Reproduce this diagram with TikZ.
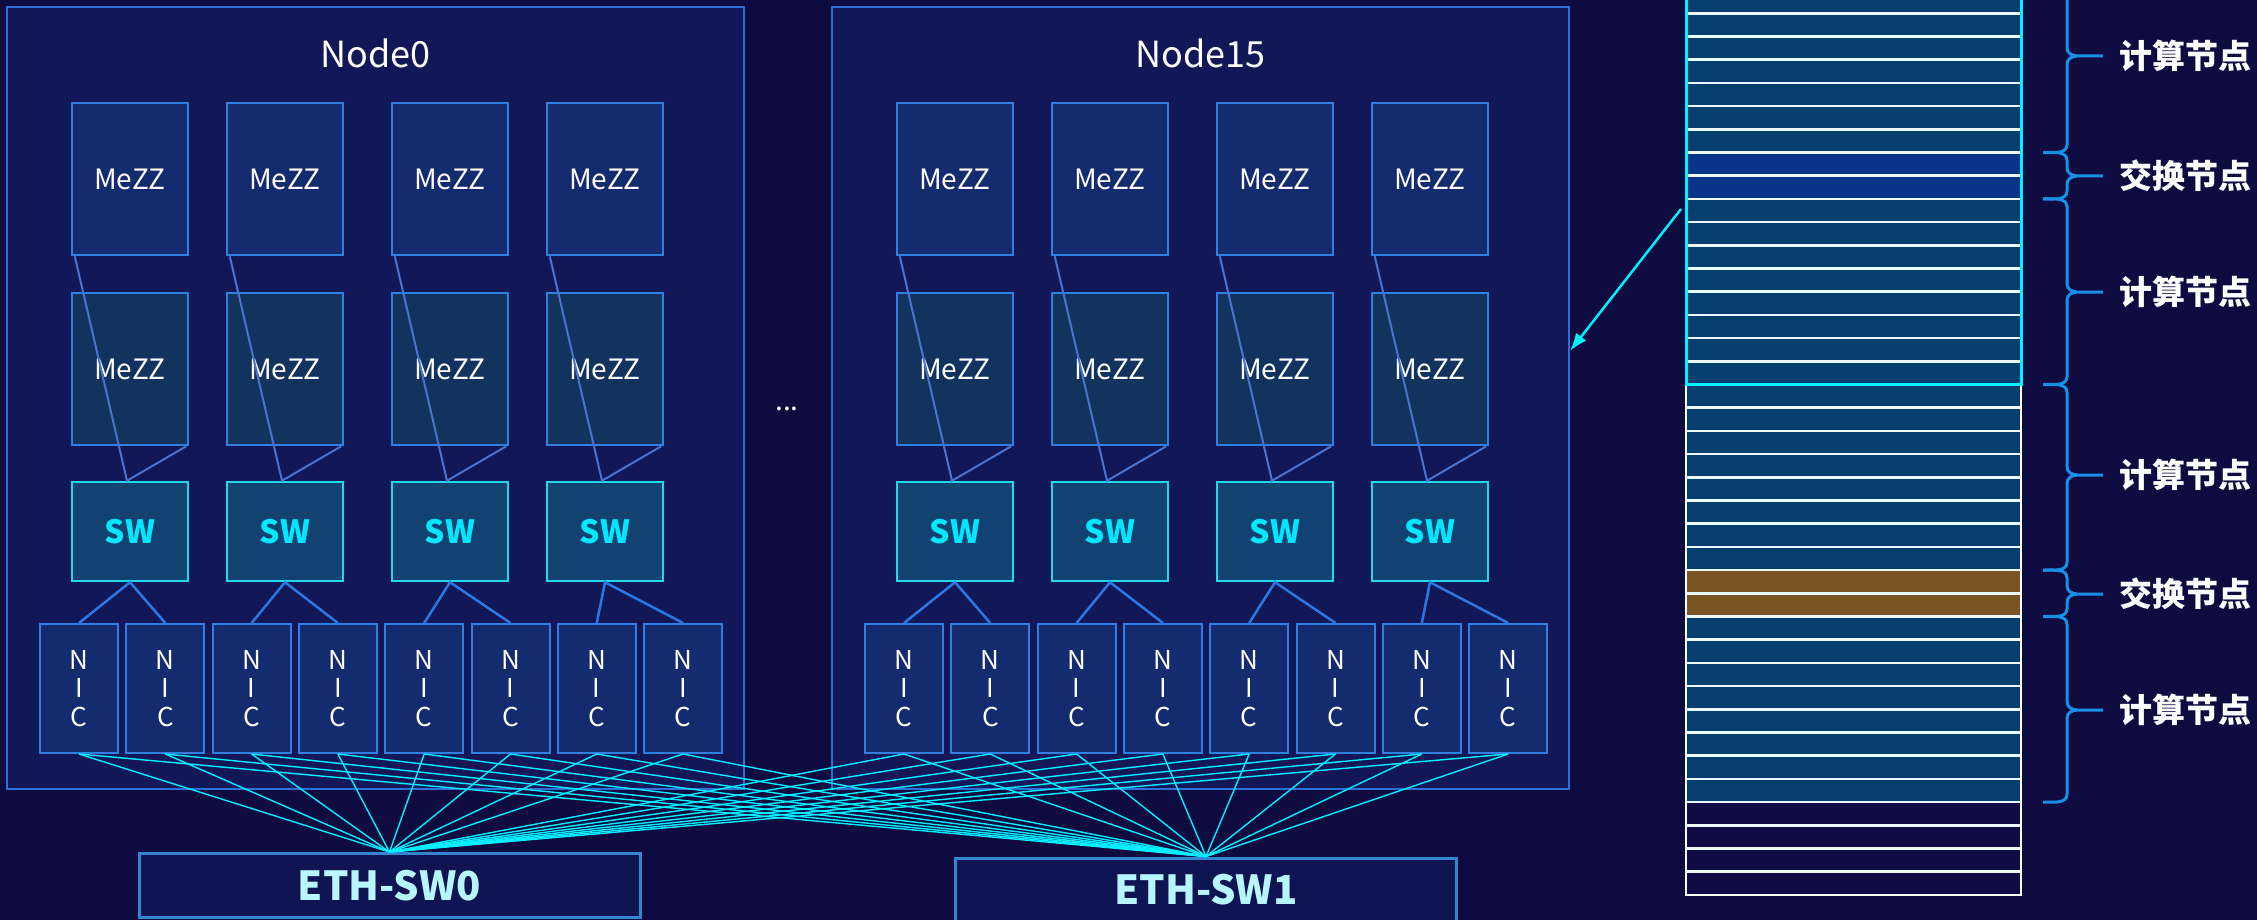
\documentclass[tikz,border=0pt]{standalone}
\usepackage{fontspec}
\setmainfont{Noto Sans CJK SC}
\usepackage{xcolor}
\usetikzlibrary{positioning,calc,arrows.meta}

\definecolor{bgnavy}{HTML}{0E0B40}
\definecolor{boxfill}{HTML}{111757}
\definecolor{boxline}{HTML}{2C6FD8}
\definecolor{mezzfill}{HTML}{152B70}
\definecolor{mezzlow}{HTML}{13335F}
\definecolor{mezzline}{HTML}{2F80E0}
\definecolor{swfill}{HTML}{114272}
\definecolor{swline}{HTML}{1FD8E8}
\definecolor{swtext}{HTML}{00E8FF}
\definecolor{linkblue}{HTML}{4A72D0}
\definecolor{nicblue}{HTML}{2B78E4}
\definecolor{fancyan}{HTML}{00F0FF}
\definecolor{ethfill}{HTML}{0F1452}
\definecolor{ethline}{HTML}{3584D0}
\definecolor{ethtext}{HTML}{B8F6FF}
\definecolor{rackteal}{HTML}{063E70}
\definecolor{rackblue}{HTML}{0A348A}
\definecolor{rackbrown}{HTML}{7A5523}
\definecolor{rackempty}{HTML}{100B45}
\definecolor{bracecol}{HTML}{1A8FE8}

\begin{document}
\begin{tikzpicture}[x=1pt, y=-1pt,
    nodebox/.style={draw=boxline, fill=boxfill, line width=2pt, minimum width=737pt, minimum height=782pt, inner sep=0pt},
    nodetitle/.style={text=white, font=\fontsize{36}{40}\selectfont},
    mezz/.style={draw=mezzline, fill=mezzfill, line width=2.5pt, minimum width=116pt, minimum height=152pt, inner sep=0pt, text=white, font=\fontsize{28}{30}\selectfont},
    mezzlo/.style={mezz, fill=mezzlow},
    swbox/.style={draw=swline, fill=swfill, line width=2.5pt, minimum width=116pt, minimum height=99pt, inner sep=0pt, text=swtext, font=\fontsize{32}{34}\selectfont\bfseries},
    nic/.style={draw=mezzline, fill=mezzfill, line width=2pt, minimum width=78pt, minimum height=129pt, inner sep=0pt, text=white, align=center, font=\fontsize{26}{28.5}\selectfont},
    ethsw/.style={draw=ethline, fill=ethfill, line width=3pt, minimum width=501pt, minimum height=64pt, inner sep=0pt, text=ethtext, font=\fontsize{40}{44}\selectfont\bfseries},
    uplink/.style={linkblue, line width=2pt},
    niclink/.style={nicblue, line width=2.5pt},
    fan/.style={fancyan, line width=1.4pt},
    rackline/.style={white!92!cyan, line width=2.5pt},
    bracepath/.style={bracecol, line width=3pt},
    bracelabel/.style={anchor=west, text=white, font=\fontsize{33}{34}\selectfont\bfseries},
    ptr/.style={-{Latex[length=18pt,width=13pt]}, fancyan, line width=2.5pt}
  ]
  \useasboundingbox (0,0) rectangle (2257,920);
  \fill[bgnavy] (0,0) rectangle (2257,920);

  % Compute nodes
  \foreach \n/\x in {0/7, 15/832} {
    \node[nodebox] (node\n) at ({\x+368.5},398) {};
    \node[nodetitle] (title\n) at ({\x+368.5},53) {Node\n};
    \foreach \i/\c in {1/123, 2/278, 3/443, 4/598} {
      \node[mezz] (mu\n-\i) at ({\x+\c},179) {MeZZ};
      \node[mezzlo, below=35.5pt of mu\n-\i] (ml\n-\i) {MeZZ};
      \node[swbox, below=34.5pt of ml\n-\i] (sw\n-\i) {SW};
      \draw[uplink] ($(mu\n-\i.south west)+(4,0)$) -- ($(sw\n-\i.north)+(-3,0)$) -- ($(ml\n-\i.south east)+(-3,0)$);
    }
    \foreach \j in {0,...,7}
      \node[nic] (nic\n-\j) at ({\x+72+86.3*\j},688.5) {N\\I\\C};
    \foreach \i/\a/\b in {1/0/1, 2/2/3, 3/4/5, 4/6/7}
      \draw[niclink] (nic\n-\a.north) -- (sw\n-\i.south) -- (nic\n-\b.north);
  }
  \node[text=white, font=\fontsize{28}{30}\selectfont] (gap) at (787,409) {...};

  % Ethernet switches
  \node[ethsw] (eth0) at (389.5,885.5) {ETH-SW0};
  \node[ethsw] (eth1) at (1206,890) {ETH-SW1};
  \foreach \n in {0,15}
    \foreach \j in {0,...,7} {
      \draw[fan] (nic\n-\j.south) -- (eth0.north);
      \draw[fan] (nic\n-\j.south) -- (eth1.north);
    }

  % Rack
  \fill[rackteal] (1686,-20) rectangle (2021,894.9);
  \foreach \r/\col in {6/rackblue, 7/rackblue, 24/rackbrown, 25/rackbrown, 34/rackempty, 35/rackempty, 36/rackempty, 37/rackempty}
    \fill[\col] (1686,{13.3+23.2*\r}) rectangle (2021,{13.3+23.2*(\r+1)});
  \foreach \r in {0,...,37}
    \draw[rackline] (1686,{13.3+23.2*\r}) -- (2021,{13.3+23.2*\r});
  \draw[white, line width=2.5pt] (1686,384.5) -- (1686,894.9) -- (2021,894.9) -- (2021,384.5);
  \draw[fancyan, line width=3pt] (1686,-20) -- (1686,384.5) -- (2021,384.5) -- (2021,-20);

  % Braces
  \foreach \nm/\ya/\ym/\yb/\txt in {a/-40/56/152.5/计算节点, b/152.5/176/198.9/交换节点, c/198.9/292/384.5/计算节点, d/384.5/475/570.1/计算节点, e/570.1/594/616.5/交换节点, f/616.5/710/802.1/计算节点} {
    \draw[bracepath] (2043,\ya) to[out=0,in=90] (2067,{\ya+8}) -- (2067,{\ym-8}) to[out=-90,in=180] (2077,\ym) -- (2103,\ym);
    \draw[bracepath] (2077,\ym) to[out=180,in=90] (2067,{\ym+8}) -- (2067,{\yb-8}) to[out=-90,in=0] (2043,\yb);
    \node[bracelabel] (lbl\nm) at (2116,\ym) {\txt};
  }

  \coordinate (rackptr) at (1681,209);
  \draw[ptr] (rackptr) -- ($(node15.north east)!0.44!(node15.south east)$);
\end{tikzpicture}
\end{document}
